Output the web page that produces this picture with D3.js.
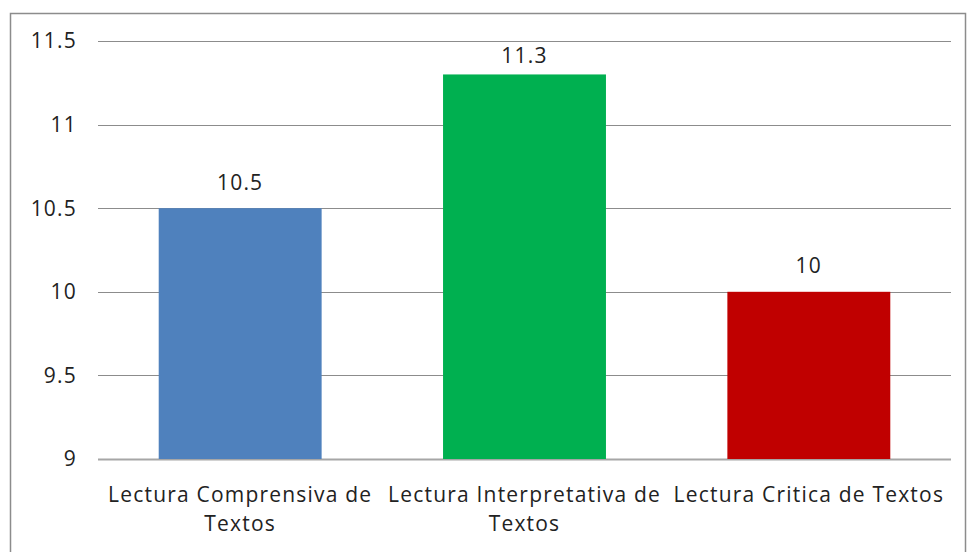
<!DOCTYPE html>
<html>
<head>
<meta charset="utf-8">
<script src="https://cdn.jsdelivr.net/npm/d3@7"></script>
<style>
  body { margin: 0; background: #fff; }
  text { font-family: "Open Sans", "Liberation Sans", sans-serif; fill: #222; letter-spacing: 1.2px; }
</style>
</head>
<body>
<div id="chart"></div>
<script>
var categories = ["Lectura Comprensiva de Textos", "Lectura Interpretativa de Textos", "Lectura Critica de Textos"];
var labelLines = [["Lectura Comprensiva de", "Textos"], ["Lectura Interpretativa de", "Textos"], ["Lectura Critica de Textos"]];
var values = [10.5, 11.3, 10];
var barColors = ["#4f81bd", "#00b050", "#c00000"];
var yTicks = [9, 9.5, 10, 10.5, 11, 11.5];

var width = 968, height = 552;
var plotLeft = 98, plotRight = 951, plotTop = 41, plotBottom = 459;

var svg = d3.select("#chart").append("svg")
    .attr("width", width)
    .attr("height", height);

// outer frame
svg.append("rect")
    .attr("x", 10.5).attr("y", 13.5)
    .attr("width", 955).attr("height", 545)
    .attr("fill", "none")
    .attr("stroke", "#8c8c8c")
    .attr("stroke-width", 1.5);

var x = d3.scaleBand()
    .domain(categories)
    .range([plotLeft, plotRight])
    .paddingInner(0.427)
    .paddingOuter(0.2135);

var y = d3.scaleLinear()
    .domain([9, 11.5])
    .range([plotBottom, plotTop]);

// gridlines
svg.selectAll("line.grid")
    .data(yTicks)
    .enter().append("line")
    .attr("class", "grid")
    .attr("x1", plotLeft).attr("x2", plotRight)
    .attr("y1", function (d) { return Math.round(y(d)) + 0.5; })
    .attr("y2", function (d) { return Math.round(y(d)) + 0.5; })
    .attr("stroke", function (d) { return d == 9 ? "#a6a6a6" : "#8c8c8c"; })
    .attr("stroke-width", function (d) { return d == 9 ? 2 : 1; });

// y tick labels
svg.selectAll("text.ytick")
    .data(yTicks)
    .enter().append("text")
    .attr("class", "ytick")
    .attr("x", 77)
    .attr("y", function (d) { return y(d); })
    .attr("dy", "0.35em")
    .attr("text-anchor", "end")
    .style("font-size", "21px")
    .text(function (d) { return d; });

// bars
svg.selectAll("rect.bar")
    .data(values)
    .enter().append("rect")
    .attr("class", "bar")
    .attr("x", function (d, i) { return x(categories[i]); })
    .attr("y", function (d) { return y(d); })
    .attr("width", x.bandwidth())
    .attr("height", function (d) { return y(9) - y(d); })
    .attr("fill", function (d, i) { return barColors[i]; });

// value labels (kept inside the plot area like excel does)
svg.selectAll("text.val")
    .data(values)
    .enter().append("text")
    .attr("class", "val")
    .attr("x", function (d, i) { return x(categories[i]) + x.bandwidth() / 2; })
    .attr("y", function (d) { return Math.max(y(d) - 26, plotTop + 15); })
    .attr("dy", "0.35em")
    .attr("text-anchor", "middle")
    .style("font-size", "21px")
    .text(function (d) { return d; });

// category labels
var cat = svg.selectAll("text.cat")
    .data(categories)
    .enter().append("text")
    .attr("class", "cat")
    .attr("text-anchor", "middle")
    .style("font-size", "21px");

cat.each(function (d, i) {
    var t = d3.select(this);
    var cx = x(d) + x.bandwidth() / 2;
    labelLines[i].forEach(function (line, j) {
        t.append("tspan")
            .attr("x", cx)
            .attr("y", 495 + j * 29)
            .attr("dy", "0.35em")
            .text(line);
    });
});
</script>
</body>
</html>
